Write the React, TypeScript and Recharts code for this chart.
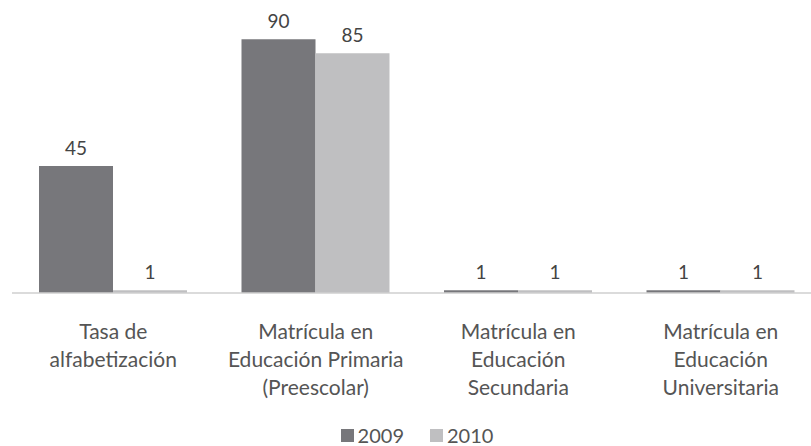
import React from 'react'
import { BarChart, Bar, XAxis, YAxis, Legend, LabelList } from 'recharts'

// category labels, "\n" marks a line break
const categories = [
  'Tasa de\nalfabetización',
  'Matrícula en\nEducación Primaria\n(Preescolar)',
  'Matrícula en\nEducación\nSecundaria',
  'Matrícula en\nEducación\nUniversitaria',
]
const values2009 = [45, 90, 1, 1]
const values2010 = [1, 85, 1, 1]

const FONT = 'Lato, "Open Sans", sans-serif'
const DARK = '#77777b'
const LIGHT = '#bfbfc1'

const data = categories.map((name, i) => ({
  name,
  y2009: values2009[i],
  y2010: values2010[i],
}))

function CategoryTick(props: any) {
  const { x, y, payload } = props
  const lines = String(payload.value).split('\n')
  return (
    <text
      x={x}
      y={y + 46}
      textAnchor="middle"
      fill="#555"
      fontSize={21}
      fontFamily={FONT}
    >
      {lines.map((l, i) => (
        <tspan key={i} x={x} dy={i === 0 ? 0 : 28}>
          {l}
        </tspan>
      ))}
    </text>
  )
}

function LegendBox(props: any) {
  const items = props.payload || []
  return (
    <div
      style={{
        display: 'flex',
        justifyContent: 'center',
        alignItems: 'center',
        height: 20,
        paddingLeft: 26,
        fontFamily: FONT,
        fontSize: 20,
        color: '#555',
      }}
    >
      {items.map((it: any) => (
        <span key={it.value} style={{ display: 'flex', alignItems: 'center', marginRight: 26 }}>
          <span style={{ width: 13, height: 13, background: it.color, marginRight: 4 }} />
          {it.value}
        </span>
      ))}
    </div>
  )
}

export default function App() {
  return (
    <div style={{ width: 811, height: 446, overflow: 'hidden', background: '#fff' }}>
      <style>{'html,body{margin:0;overflow:hidden}'}</style>
      <BarChart
        width={822}
        height={446}
        data={data}
        margin={{ top: 11, left: 12, right: 0, bottom: 1 }}
        barCategoryGap={27}
        barGap={0}
      >
        <XAxis
          dataKey="name"
          interval={0}
          height={132}
          tickLine={false}
          tickSize={0}
          tickMargin={0}
          axisLine={{ stroke: '#cfcfcf', strokeWidth: 1.5 }}
          tick={<CategoryTick />}
        />
        <YAxis hide domain={[0, 100]} />
        <Legend verticalAlign="bottom" height={20} content={<LegendBox />} />
        <Bar dataKey="y2009" name="2009" fill={DARK} isAnimationActive={false}>
          <LabelList
            dataKey="y2009"
            position="top"
            offset={11}
            fill="#444"
            fontSize={19}
            fontFamily={FONT}
          />
        </Bar>
        <Bar dataKey="y2010" name="2010" fill={LIGHT} isAnimationActive={false}>
          <LabelList
            dataKey="y2010"
            position="top"
            offset={11}
            fill="#444"
            fontSize={19}
            fontFamily={FONT}
          />
        </Bar>
      </BarChart>
    </div>
  )
}
